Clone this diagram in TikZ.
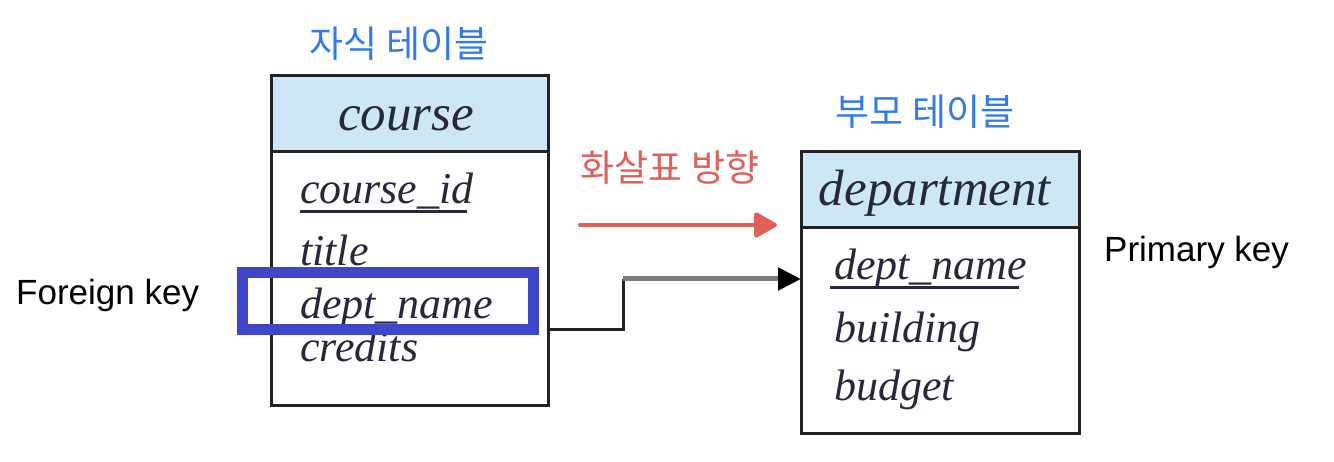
\documentclass[tikz,border=0pt]{standalone}
\usepackage{fontspec}
\newfontfamily\sansfnt{Liberation Sans}
\newfontfamily\serifit{Liberation Serif}
\newfontfamily\krfnt{Noto Sans CJK KR}
\usetikzlibrary{arrows.meta}
\definecolor{hdrblue}{RGB}{205,231,247}
\definecolor{fkblue}{RGB}{64,70,200}
\definecolor{handblue}{RGB}{47,123,234}
\definecolor{handred}{RGB}{224,96,88}
\definecolor{attrcol}{RGB}{40,40,60}
\definecolor{boxline}{RGB}{35,35,35}
\definecolor{linkgray}{RGB}{125,125,125}
\begin{document}
\begin{tikzpicture}[x=1pt,y=-1pt,
  tblbox/.style={draw=boxline, line width=3pt, rectangle, inner sep=0pt, outer sep=0pt},
  tblhdr/.style={tblbox, fill=hdrblue},
  tblbody/.style={tblbox, fill=white},
  hdrtext/.style={inner sep=0pt, text=attrcol, font=\serifit\itshape\fontsize{51}{58}\selectfont},
  attrtext/.style={inner sep=0pt, anchor=base west, text=attrcol, font=\serifit\itshape\fontsize{44}{50}\selectfont},
  keyline/.style={draw=attrcol, line width=3pt},
  labeltext/.style={inner sep=0pt, anchor=base west, font=\sansfnt\fontsize{35}{42}\selectfont},
  handtext/.style={inner sep=0pt, font=\krfnt\fontsize{37}{44}\selectfont},
  fkmark/.style={draw=fkblue, line width=11pt, rectangle, inner sep=0pt, outer sep=0pt},
  link/.style={draw=boxline, line width=3pt},
  linkhead/.style={draw=linkgray, line width=5pt, -{Triangle[length=23pt,width=22pt,color=black]}},
  dirarrow/.style={draw=handred, line width=4pt, line cap=round, -{Triangle[round,length=25pt,width=27pt]}}
]
\useasboundingbox (0,0) rectangle (1334,462);

% course table
\node[tblbody, minimum width=277pt, minimum height=253pt] (cbody) at (409.5,278.5) {};
\node[tblhdr, minimum width=277pt, minimum height=76pt] (chdr) at (409.5,114) {};
\node[hdrtext, anchor=base] (cname) at (406,131) {course};
\node[attrtext] (cid) at (300,204) {course\_id};
\draw[keyline] (cid.base west) ++(0,8) -- ++(167,0);
\node[attrtext] (ctitle) at (300,266) {title};
\node[attrtext] (cdept) at (300,319) {dept\_name};
\node[attrtext] (ccred) at (300,362) {credits};

% department table
\node[tblbody, minimum width=278pt, minimum height=205pt] (dbody) at (940,330.5) {};
\node[tblhdr, minimum width=278pt, minimum height=76pt] (dhdr) at (940,190) {};
\node[hdrtext, anchor=base] (dname) at (935,206) {department};
\node[attrtext] (ddept) at (834,280) {dept\_name};
\draw[keyline] (ddept.base west) ++(-4,8) -- ++(189,0);
\node[attrtext] (dbuild) at (834,343) {building};
\node[attrtext] (dbudget) at (834,400) {budget};

% foreign key highlight
\node[fkmark, minimum width=291pt, minimum height=57pt] (fk) at (387.5,301.5) {};

% connector
\coordinate (bendlow) at (623,330);
\coordinate (bendhigh) at (623,279);
\draw[link] (cbody.east |- fk.south) -- (bendlow) -- (bendhigh);
\draw[linkhead] (bendhigh) -- (dbody.west |- bendhigh);

% direction arrow
\coordinate (dirstart) at (580,225);
\coordinate (dirend) at (777,225);
\draw[dirarrow] (dirstart) -- (dirend);

% labels
\node[labeltext] (fklabel) at (16,305) {Foreign key};
\node[labeltext] (pklabel) at (1104,262) {Primary key};
\node[handtext, text=handblue] (childlbl) at (399,44) {자식 테이블};
\node[handtext, text=handblue] (parentlbl) at (925,112) {부모 테이블};
\node[handtext, text=handred] (dirlbl) at (670,168) {화살표 방향};
\end{tikzpicture}
\end{document}
